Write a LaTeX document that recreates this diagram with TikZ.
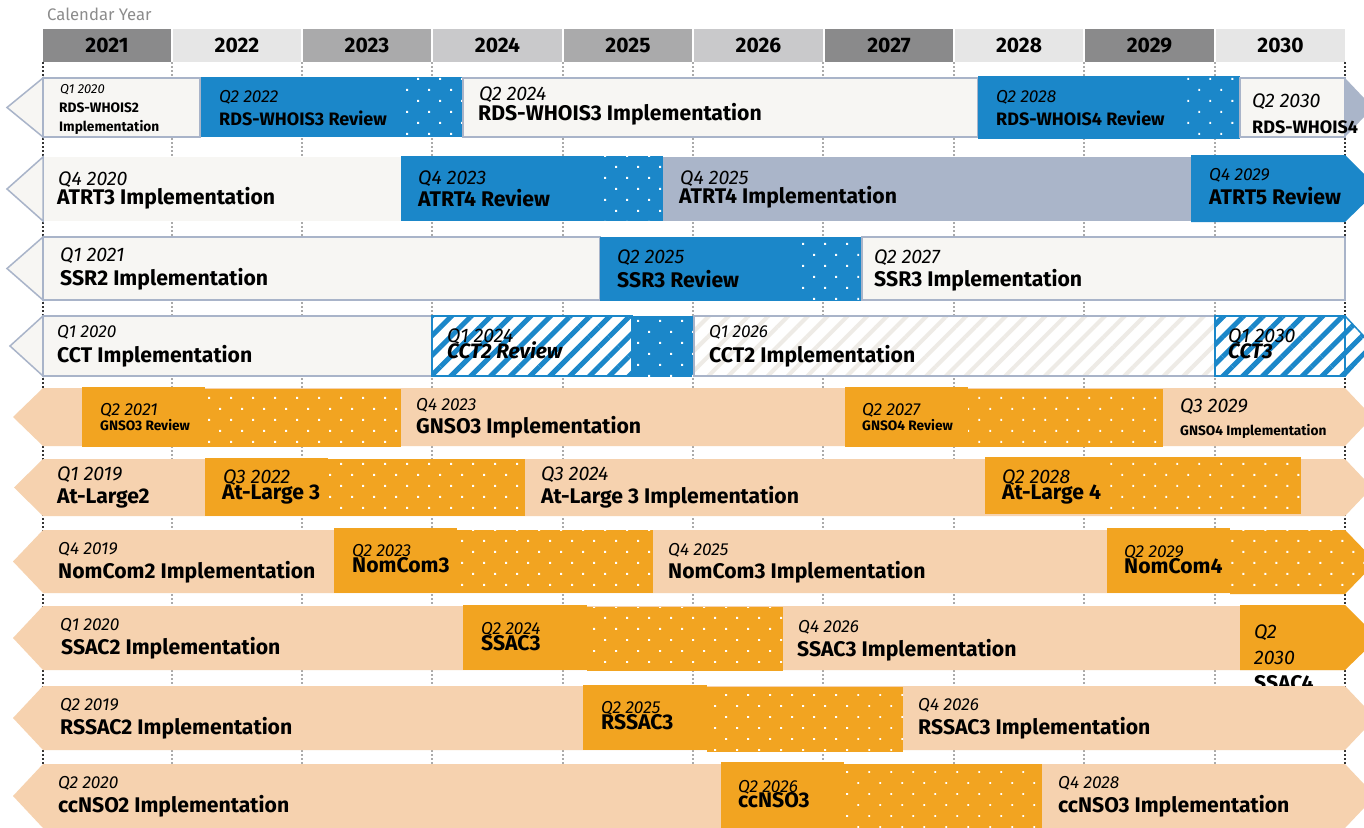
\documentclass[tikz,border=0pt]{standalone}
\usepackage{fontspec}
\setmainfont{Fira Sans}
\usetikzlibrary{patterns.meta}
\definecolor{lightbg}{HTML}{F7F6F3}
\definecolor{outl}{HTML}{A9B4C9}
\definecolor{rblue}{HTML}{1B87C9}
\definecolor{gblue}{HTML}{AAB5C9}
\definecolor{peach}{HTML}{F6D2AF}
\definecolor{orng}{HTML}{F2A421}
\definecolor{hatchlight}{HTML}{EEEBE6}
\definecolor{gridg}{HTML}{AAAAAA}
\definecolor{hdA}{HTML}{8A8A8B}
\definecolor{hdB}{HTML}{E6E6E6}
\definecolor{hdC}{HTML}{AAAAAB}
\definecolor{hdD}{HTML}{C9C9CB}
\definecolor{capgray}{HTML}{8C8C8C}
\tikzset{
  qL/.style={anchor=base west, inner sep=0pt, font=\fontsize{19.6}{19.6}\selectfont\itshape},
  qM/.style={anchor=base west, inner sep=0pt, font=\fontsize{17.3}{17.3}\selectfont\itshape},
  qS/.style={anchor=base west, inner sep=0pt, font=\fontsize{13}{13}\selectfont\itshape},
  tL/.style={anchor=base west, inner sep=0pt, font=\fontsize{21.2}{21.2}\selectfont\bfseries},
  tM/.style={anchor=base west, inner sep=0pt, font=\fontsize{18}{18}\selectfont\bfseries},
  tS/.style={anchor=base west, inner sep=0pt, font=\fontsize{13.7}{13.7}\selectfont\bfseries},
  tBI/.style={anchor=base west, inner sep=0pt, font=\fontsize{20.8}{20.8}\selectfont\bfseries\itshape},
  yr/.style={anchor=base, inner sep=0pt, font=\fontsize{21}{21}\selectfont\bfseries},
  dotsw/.style={pattern={Dots[radius=1.35pt, distance=15.56pt, angle=45]}, pattern color=white},
  hatchb/.style={pattern={Lines[angle=45, distance=14pt, line width=5pt]}, pattern color=rblue},
  hatchl/.style={pattern={Lines[angle=45, distance=14pt, line width=4pt]}, pattern color=hatchlight},
  boxo/.style={fill=lightbg, draw=outl, line width=1.5pt},
  gridl/.style={gridg, line width=1.2pt, dash pattern=on 2pt off 2pt},
  gridk/.style={black!80, line width=1.4pt, dash pattern=on 2pt off 2pt},
}
\newcommand\dotbox[5]{\fill[#5] (#1,#2) rectangle (#3,#4); \fill[dotsw] (#1,#2) rectangle (#3,#4);}
\newcommand\peacharrow[3]{\fill[peach] (#3,{(#1+#2)/2}) -- (43,#1) -- (1345,#1) -- ({1345+0.95*(#2-#1)/2},{(#1+#2)/2}) -- (1345,#2) -- (43,#2) -- cycle;}
\begin{document}
\begin{tikzpicture}[x=1pt,y=-1pt]
\useasboundingbox (0,0) rectangle (1364,827);
\fill[white] (0,0) rectangle (1364,827);
\clip (0,0) rectangle (1364,827);

% caption
\node[anchor=base west, inner sep=0pt, text=capgray, font=\fontsize{16.7}{16.7}\selectfont] (cap) at (47,20) {Calendar Year};

% grid lines
\foreach \x in {172,302,432,563,693,823,954,1084,1215} \draw[gridl] (\x,62) -- (\x,827);
\draw[gridk] (43,62) -- (43,827);
\draw[gridk] (1345,62) -- (1345,827);

% header
\foreach \a/\b/\c/\y in {43/171/hdA/2021,173/301/hdB/2022,303/431/hdC/2023,433/562/hdD/2024,564/692/hdC/2025,694/823/hdD/2026,825/953/hdA/2027,955/1083/hdB/2028,1085/1214/hdA/2029,1216/1345/hdB/2030}{
  \fill[\c] (\a,29) rectangle (\b,62);
  \node[yr] (h\y) at ({(\a+\b)/2},52.5) {\y};
}

% ---------- Row 1 RDS-WHOIS ----------
\filldraw[boxo] (43,78) -- (7,107.5) -- (43,137) -- cycle;
\filldraw[boxo] (43,78) rectangle (200,137);
\fill[rblue] (201,77) rectangle (402,137);
\dotbox{402}{77}{462}{137}{rblue}
\filldraw[boxo] (463,78) rectangle (978,137);
\fill[rblue] (978,76) rectangle (1183,139);
\dotbox{1183}{76}{1240}{139}{rblue}
\filldraw[boxo] (1240,78) rectangle (1345,137);
\fill[gblue] (1345,78) -- (1373,107.5) -- (1345,137) -- cycle;
\node[qS] (r1a) at (60,93) {Q1 2020};
\node[tS] (r1b) at (59,112) {RDS-WHOIS2};
\node[tS] (r1c) at (59,131) {Implementation};
\node[qM] (r1d) at (219,102) {Q2 2022};
\node[tM] (r1e) at (219,125) {RDS-WHOIS3 Review};
\node[qL] (r1f) at (479,100) {Q2 2024};
\node[tL] (r1g) at (478,120) {RDS-WHOIS3 Implementation};
\node[qM] (r1h) at (996,102) {Q2 2028};
\node[tM] (r1i) at (996,125) {RDS-WHOIS4 Review};
\node[qL] (r1j) at (1252,107) {Q2 2030};
\node[tM] (r1k) at (1252,133) {RDS-WHOIS4};

% ---------- Row 2 ATRT ----------
\filldraw[boxo] (43,157) -- (7,189) -- (43,221) -- cycle;
\fill[lightbg] (43.7,157) rectangle (401,221);
\fill[rblue] (401,156) rectangle (602,221);
\dotbox{602}{156}{663}{221}{rblue}
\fill[gblue] (663,157) rectangle (1191,221);
\fill[rblue] (1191,155) -- (1345,155) -- (1379,189) -- (1345,222) -- (1191,222) -- cycle;
\node[qL] (r2a) at (58,185) {Q4 2020};
\node[tL] (r2b) at (57,204) {ATRT3 Implementation};
\node[qL] (r2c) at (418,184) {Q4 2023};
\node[tL] (r2d) at (418,206) {ATRT4 Review};
\node[qL] (r2e) at (680,184) {Q4 2025};
\node[tL] (r2f) at (679,203) {ATRT4 Implementation};
\node[qM] (r2g) at (1209,180) {Q4 2029};
\node[tL] (r2h) at (1209,204) {ATRT5 Review};

% ---------- Row 3 SSR ----------
\filldraw[boxo] (43,237) -- (7,268.5) -- (43,300) -- cycle;
\filldraw[boxo] (43,237) rectangle (600,300);
\fill[rblue] (600,237) rectangle (800,301);
\dotbox{800}{237}{862}{301}{rblue}
\filldraw[boxo] (862,237) rectangle (1345,300);
\node[qL] (r3a) at (60,261) {Q1 2021};
\node[tL] (r3b) at (60,285) {SSR2 Implementation};
\node[qL] (r3c) at (617,263) {Q2 2025};
\node[tL] (r3d) at (617,287) {SSR3 Review};
\node[qL] (r3e) at (874,263) {Q2 2027};
\node[tL] (r3f) at (874,286) {SSR3 Implementation};

% ---------- Row 4 CCT ----------
\filldraw[boxo] (43,316) -- (10,346) -- (43,376) -- cycle;
\filldraw[boxo] (43,316) rectangle (432,376);
\fill[white] (432,316) rectangle (632,376);
\fill[hatchb] (432,316) rectangle (632,376);
\draw[rblue, line width=1.5pt] (432,316) rectangle (632,376);
\dotbox{632}{316}{694}{377}{rblue}
\fill[white] (694,316) rectangle (1215,376);
\fill[hatchl] (694,316) rectangle (1215,376);
\draw[outl, line width=1.5pt] (694,316) rectangle (1215,376);
\fill[white] (1215,316) rectangle (1345,376);
\fill[hatchb] (1215,316) rectangle (1345,376);
\fill[white] (1345,316) -- (1373,346) -- (1345,376) -- cycle;
\fill[hatchb] (1345,316) -- (1373,346) -- (1345,376) -- cycle;
\draw[rblue, line width=1.5pt] (1215,316) rectangle (1345,376);
\draw[rblue, line width=1.5pt] (1345,316) -- (1373,346) -- (1345,376);
\node[qM] (r4a) at (57,337) {Q1 2020};
\node[tL] (r4b) at (57,362) {CCT Implementation};
\node[qL] (r4c) at (447,342) {Q1 2024};
\node[tBI] (r4d) at (447,358) {CCT2 Review};
\node[qM] (r4e) at (709,337) {Q1 2026};
\node[tL] (r4f) at (709,362) {CCT2 Implementation};
\node[qL] (r4g) at (1228,342) {Q1 2030};
\node[tBI] (r4h) at (1228,358) {CCT3};

% ---------- Row 5 GNSO ----------
\peacharrow{388}{446}{13}
\fill[orng] (82,387) rectangle (205,447);
\dotbox{205}{389}{401}{447}{orng}
\fill[orng] (845,387) rectangle (968,447);
\dotbox{968}{389}{1163}{447}{orng}
\node[qM] (r5a) at (100,415) {Q2 2021};
\node[tS] (r5b) at (100,430) {GNSO3 Review};
\node[qM] (r5c) at (416,410) {Q4 2023};
\node[tL] (r5d) at (416,433) {GNSO3 Implementation};
\node[qM] (r5e) at (862,415) {Q2 2027};
\node[tS] (r5f) at (862,430) {GNSO4 Review};
\node[qL] (r5g) at (1180,412) {Q3 2029};
\node[tS] (r5h) at (1180,435) {GNSO4 Implementation};

% ---------- Row 6 At-Large ----------
\peacharrow{459}{516}{14}
\fill[orng] (205,458) rectangle (328,516);
\dotbox{328}{459}{525}{516}{orng}
\fill[orng] (985,457) rectangle (1108,514);
\dotbox{1108}{457}{1301}{514}{orng}
\node[qL] (r6a) at (57,480) {Q1 2019};
\node[tL] (r6b) at (57,503) {At-Large2};
\node[qL] (r6c) at (223,483) {Q3 2022};
\node[tL] (r6d) at (222,499) {At-Large 3};
\node[qL] (r6e) at (541,480) {Q3 2024};
\node[tL] (r6f) at (541,503) {At-Large 3 Implementation};
\node[qL] (r6g) at (1002,483) {Q2 2028};
\node[tL] (r6h) at (1002,499) {At-Large 4};

% ---------- Row 7 NomCom ----------
\peacharrow{530}{593}{13}
\fill[orng] (334,528) rectangle (457,593);
\dotbox{457}{530}{653}{593}{orng}
\fill[orng] (1107,528) rectangle (1230,593);
\fill[orng] (1230,530) -- (1345,530) -- (1376,562) -- (1345,594) -- (1230,594) -- cycle;
\fill[dotsw] (1230,530) -- (1345,530) -- (1376,562) -- (1345,594) -- (1230,594) -- cycle;
\node[qM] (r7a) at (58,554) {Q4 2019};
\node[tL] (r7b) at (58,578) {NomCom2 Implementation};
\node[qM] (r7c) at (352,556) {Q2 2023};
\node[tL] (r7d) at (352,572) {NomCom3};
\node[qM] (r7e) at (668,555) {Q4 2025};
\node[tL] (r7f) at (668,578) {NomCom3 Implementation};
\node[qM] (r7g) at (1124,557) {Q2 2029};
\node[tL] (r7h) at (1124,573) {NomCom4};

% ---------- Row 8 SSAC ----------
\peacharrow{606}{670}{13}
\fill[orng] (463,605) rectangle (587,670);
\dotbox{587}{607}{783}{671}{orng}
\fill[orng] (1240,605) -- (1345,605) -- (1378,638) -- (1345,670) -- (1240,670) -- cycle;
\node[qM] (r8a) at (60,630) {Q1 2020};
\node[tL] (r8b) at (61,654) {SSAC2 Implementation};
\node[qM] (r8c) at (481,634) {Q2 2024};
\node[tL] (r8d) at (481,650) {SSAC3};
\node[qM] (r8e) at (798,632) {Q4 2026};
\node[tL] (r8f) at (797,656) {SSAC3 Implementation};
\node[qL] (r8g) at (1254,638) {Q2};
\node[qL] (r8h) at (1254,664) {2030};
\node[tL] (r8i) at (1254,690) {SSAC4};

% ---------- Row 9 RSSAC ----------
\peacharrow{686}{750}{13}
\fill[orng] (583,685) rectangle (707,750);
\dotbox{707}{687}{903}{752}{orng}
\node[qM] (r9a) at (60,710) {Q2 2019};
\node[tL] (r9b) at (60,734) {RSSAC2 Implementation};
\node[qM] (r9c) at (601,713) {Q2 2025};
\node[tL] (r9d) at (601,729) {RSSAC3};
\node[qM] (r9e) at (918,710) {Q4 2026};
\node[tL] (r9f) at (918,734) {RSSAC3 Implementation};

% ---------- Row 10 ccNSO ----------
\peacharrow{764}{828}{13}
\fill[orng] (721,762) rectangle (844,828);
\dotbox{844}{764}{1042}{828}{orng}
\node[qM] (r10a) at (58,788) {Q2 2020};
\node[tL] (r10b) at (58,812) {ccNSO2 Implementation};
\node[qM] (r10c) at (738,792) {Q2 2026};
\node[tL] (r10d) at (738,807) {ccNSO3};
\node[qM] (r10e) at (1058,788) {Q4 2028};
\node[tL] (r10f) at (1058,812) {ccNSO3 Implementation};
\end{tikzpicture}
\end{document}
